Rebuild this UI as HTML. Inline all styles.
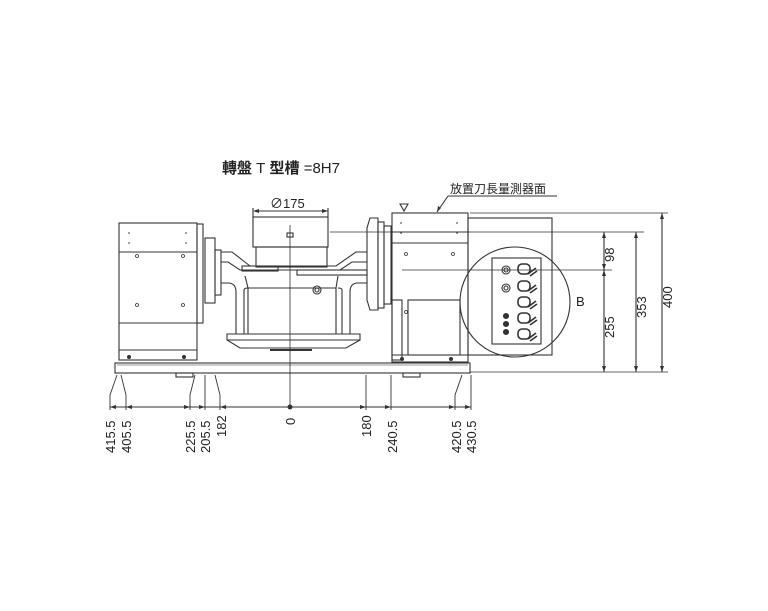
<!DOCTYPE html>
<html><head><meta charset="utf-8"><style>
html,body{margin:0;padding:0;background:#fff}
svg{display:block}
text{font-family:"Liberation Sans","Noto Sans CJK TC",sans-serif;fill:#222}
</style></head><body>
<svg width="768" height="611" viewBox="0 0 768 611" xmlns="http://www.w3.org/2000/svg">
<g fill="none" stroke="#333" stroke-width="1.1">
<rect x="115" y="363" width="355" height="10"/>
<line x1="117" y1="365" x2="468" y2="365" stroke-width="0.6"/>
<rect x="176" y="373" width="17" height="4"/>
<rect x="403" y="373" width="17" height="4"/>
<rect x="119" y="223" width="78" height="137"/>
<line x1="119" y1="252" x2="197" y2="252"/>
<line x1="119" y1="323" x2="197" y2="323"/>
<line x1="119" y1="350" x2="197" y2="350"/>
<rect x="197" y="224" width="6" height="99"/>
<rect x="205" y="238" width="10" height="65"/>
<rect x="215" y="250" width="6" height="45"/>
<rect x="253" y="217" width="75" height="30"/>
<rect x="256" y="247" width="71" height="20"/>
<rect x="287" y="233" width="6" height="4"/>
<path d="M221,252 L232,252 L250,266 L336,266 L356,252 L367,252"/>
<path d="M221,262 L228,262 L240,270 L340,270 L352,262 L367,262"/>
<rect x="242" y="266" width="36" height="5"/>
<rect x="297" y="270" width="70" height="5"/>
<path d="M221,283 L228,283 Q236,283 236,292 L236,334 L244,334 L244,290 Q244,288 248,288"/>
<path d="M367,283 L358,283 Q350,283 350,292 L350,334 L342,334 L342,290 Q342,288 338,288"/>
<path d="M245,276 L248,288 L248,334 M338,276 L336,288 L336,334"/>
<line x1="248" y1="288" x2="336" y2="288"/>
<path d="M227,334 L360,334 L360,340 L346,348 L240,348 L227,340 Z"/>
<line x1="227" y1="340" x2="360" y2="340"/>
<line x1="270" y1="350" x2="312" y2="350" stroke-width="2"/>
<circle cx="317" cy="290" r="4"/><circle cx="317" cy="290" r="2"/>
<path d="M370,218 L378,218 L378,310 L370,310 L367,300 L367,228 Z"/>
<rect x="378" y="222" width="6" height="86"/>
<rect x="384" y="226" width="7" height="78"/>
<rect x="392" y="213" width="76" height="149"/>
<line x1="392" y1="232" x2="468" y2="232"/>
<line x1="392" y1="243" x2="468" y2="243"/>
<rect x="392" y="300" width="10" height="60"/>
<rect x="408" y="300" width="52" height="55"/>
<line x1="392" y1="355" x2="468" y2="355"/>
<path d="M400,204 L408,204 L404,211 Z"/>
<rect x="468" y="218" width="84" height="137"/>
<circle cx="515" cy="302" r="55"/>
<rect x="492" y="258" width="49" height="86"/>
<circle cx="506" cy="270" r="4"/><circle cx="506" cy="270" r="2"/>
<circle cx="506" cy="288" r="4"/><circle cx="506" cy="288" r="2"/>
<circle cx="506" cy="316" r="2.5" fill="#333"/>
<circle cx="506" cy="324" r="2.5" fill="#333"/>
<circle cx="506" cy="332" r="2.5" fill="#333"/>
<g stroke-width="1.6">
<rect x="518" y="264" width="12" height="10" rx="4"/>
<rect x="518" y="281" width="12" height="10" rx="4"/>
<rect x="518" y="297" width="12" height="10" rx="4"/>
<rect x="518" y="313" width="12" height="10" rx="4"/>
<rect x="518" y="329" width="12" height="10" rx="4"/>
<path d="M528,274 l8,-6 M530,276 l7,-5 M528,291 l8,-6 M530,293 l7,-5 M528,307 l8,-6 M530,309 l7,-5 M528,323 l8,-6 M530,325 l7,-5 M528,339 l8,-6 M530,341 l7,-5"/>
</g>
<line x1="290" y1="225" x2="290" y2="407" stroke-width="0.8"/>
<line x1="330" y1="232" x2="644" y2="232" stroke-width="0.8"/>
<line x1="402" y1="270" x2="612" y2="270" stroke-width="0.8"/>
<line x1="470" y1="213" x2="668" y2="213" stroke-width="0.8"/>
<line x1="470" y1="372" x2="668" y2="372" stroke-width="0.8"/>
<line x1="604" y1="232" x2="604" y2="372"/>
<line x1="636" y1="232" x2="636" y2="372"/>
<line x1="662" y1="213" x2="662" y2="372"/>
<line x1="110" y1="407" x2="471" y2="407"/>
<g stroke-width="0.9">
<path d="M110,410 L110,395 L117,375 M126,410 L126,395 L121,375 M190,410 L190,395 L195,375 M205,410 L205,375 M220,410 L220,395 L215,375 M366,410 L366,375 M391,410 L391,375 M455,410 L455,395 L462,375 M471,410 L471,375"/>
</g>
<line x1="258" y1="211" x2="328" y2="211"/>
<line x1="253" y1="208" x2="253" y2="217"/><line x1="328" y1="208" x2="328" y2="217"/>
<path d="M448,196 L557,196 M448,196 L437,212"/>
</g>
<g fill="#333">
<circle cx="290" cy="407" r="2.5"/>
<path d="M253,211 l6,-2 v4z M328,211 l-6,-2 v4z M437,212 l1,-6 l3,2z"/>
<path d="M604,232 l-2,6 h4z M604,270 l-2,-6 h4z M604,270 l-2,6 h4z M604,372 l-2,-6 h4z M636,232 l-2,6 h4z M636,372 l-2,-6 h4z M662,213 l-2,6 h4z M662,372 l-2,-6 h4z"/>
<path d="M110,407 l6,-2 v4z M126,407 l6,-2 v4z M190,407 l-6,-2 v4z M205,407 l-6,-2 v4z M220,407 l6,-2 v4z M366,407 l-6,-2 v4z M391,407 l-6,-2 v4z M455,407 l-6,-2 v4z M471,407 l-6,-2 v4z"/>
<circle cx="129" cy="357" r="2"/><circle cx="184" cy="357" r="2"/>
<circle cx="402" cy="359" r="2"/><circle cx="451" cy="359" r="2"/>
<circle cx="129" cy="233" r="0.8"/><circle cx="186" cy="233" r="0.8"/><circle cx="129" cy="243" r="0.8"/><circle cx="186" cy="243" r="0.8"/>
<circle cx="401" cy="223" r="0.8"/><circle cx="457" cy="223" r="0.8"/><circle cx="401" cy="233" r="0.8"/><circle cx="457" cy="233" r="0.8"/>
</g>
<g fill="none" stroke="#333" stroke-width="0.8">
<circle cx="137" cy="256" r="1.5"/><circle cx="183" cy="256" r="1.5"/>
<circle cx="137" cy="305" r="1.5"/><circle cx="183" cy="305" r="1.5"/>
<circle cx="406" cy="254" r="1.5"/><circle cx="453" cy="254" r="1.5"/>
<circle cx="406" cy="312" r="1.5"/>
</g>
<text x="222" y="173" font-size="15" font-weight="bold">轉盤 <tspan font-weight="normal">T</tspan> 型槽 <tspan font-weight="normal">=8H7</tspan></text>
<text x="270" y="208" font-size="13">∅175</text>
<text x="450" y="193" font-size="12">放置刀長量測器面</text>
<text x="576" y="306" font-size="13">B</text>
<g font-size="13">
<text transform="translate(614,262) rotate(-90)">98</text>
<text transform="translate(614,338) rotate(-90)">255</text>
<text transform="translate(646,318) rotate(-90)">353</text>
<text transform="translate(672,308) rotate(-90)">400</text>
<text transform="translate(115,453) rotate(-90)">415.5</text>
<text transform="translate(131,453) rotate(-90)">405.5</text>
<text transform="translate(195,453) rotate(-90)">225.5</text>
<text transform="translate(210,453) rotate(-90)">205.5</text>
<text transform="translate(226,437) rotate(-90)">182</text>
<text transform="translate(295,425) rotate(-90)">0</text>
<text transform="translate(371,437) rotate(-90)">180</text>
<text transform="translate(397,453) rotate(-90)">240.5</text>
<text transform="translate(461,453) rotate(-90)">420.5</text>
<text transform="translate(476,453) rotate(-90)">430.5</text>
</g>
</svg>
</body></html>
